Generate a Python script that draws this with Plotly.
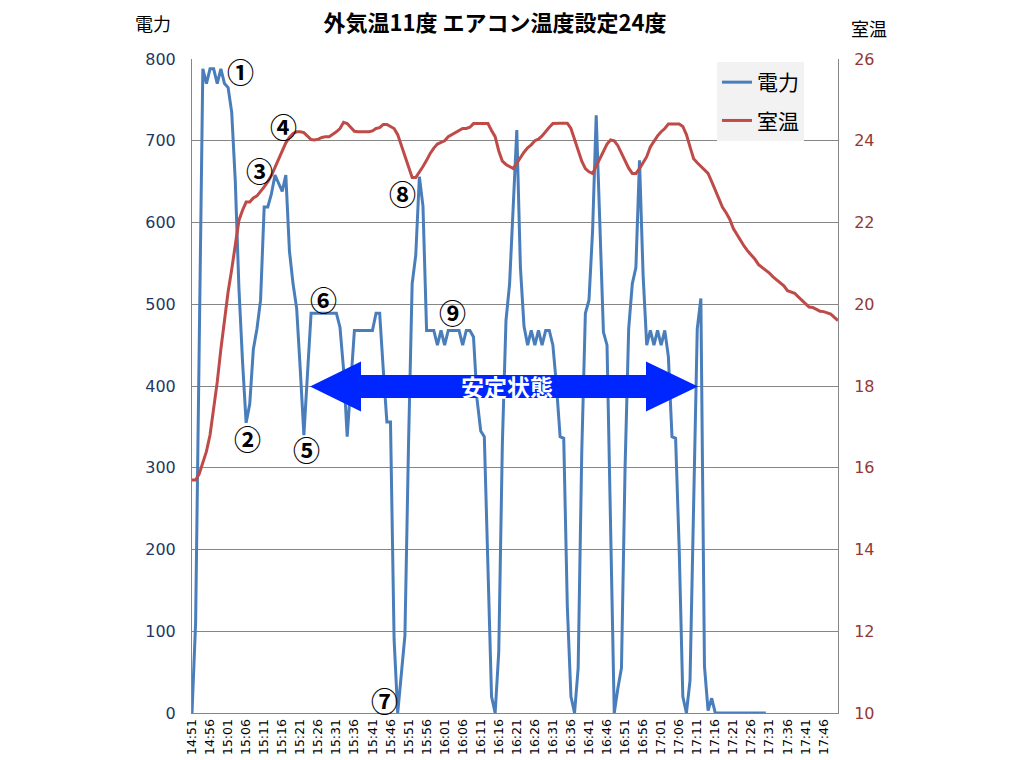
import plotly.graph_objects as go

# ---- data ----
start_h, start_m = 14, 51
n_points = 180
times = []
for k in range(n_points):
    tot = start_h * 60 + start_m + k
    times.append(f"{tot // 60}:{tot % 60:02d}")

power = [
    0, 110, 450, 788, 770, 788, 788, 770, 788, 770,
    765, 735, 650, 520, 430, 355, 378, 445, 470, 505,
    619, 619, 635, 658, 648, 638, 658, 565, 525, 495,
    420, 340, 415, 489, 489, 489, 489, 489, 489, 489,
    489, 472, 420, 338, 410, 468, 468, 468, 468, 468,
    468, 489, 489, 420, 356, 356, 90, 0, 45, 95,
    330, 525, 560, 656, 620, 468, 468, 468, 450, 468,
    450, 468, 468, 468, 468, 450, 468, 468, 460, 383,
    345, 338, 170, 20, 0, 75, 330, 480, 525, 611,
    713, 545, 473, 450, 468, 450, 468, 450, 468, 468,
    450, 400, 338, 336, 130, 20, 0, 55, 320, 489,
    505, 590, 731, 600, 466, 450, 200, 0, 30, 55,
    300, 470, 525, 545, 676, 535, 450, 468, 450, 468,
    450, 468, 436, 338, 336, 200, 20, 0, 40, 250,
    470, 507, 57, 3, 18, 0, 0, 0, 0, 0,
    0, 0, 0, 0, 0, 0, 0, 0, 0, 0,
]

room_temp = [
    15.7, 15.7, 15.85, 16.1, 16.4, 16.8, 17.4, 18.1, 18.9, 19.6,
    20.3, 20.85, 21.4, 22.05, 22.3, 22.5, 22.5, 22.6, 22.65, 22.75,
    22.87, 23.0, 23.15, 23.35, 23.55, 23.75, 23.95, 24.08, 24.18, 24.22,
    24.22, 24.2, 24.12, 24.03, 24.02, 24.04, 24.08, 24.1, 24.1, 24.15,
    24.22, 24.3, 24.45, 24.42, 24.32, 24.23, 24.22, 24.22, 24.22, 24.22,
    24.24, 24.3, 24.32, 24.4, 24.4, 24.35, 24.3, 24.15, 23.9, 23.65,
    23.4, 23.1, 23.1, 23.22, 23.37, 23.52, 23.69, 23.82, 23.92, 23.96,
    24.0, 24.1, 24.15, 24.2, 24.24, 24.3, 24.3, 24.33, 24.42, 24.42,
    24.42, 24.42, 24.42, 24.25, 24.1, 23.75, 23.5, 23.42, 23.38, 23.32,
    23.45, 23.6, 23.72, 23.83, 23.9, 24.0, 24.04, 24.12, 24.24, 24.33,
    24.42, 24.43, 24.43, 24.43, 24.43, 24.3, 24.05, 23.8, 23.5, 23.32,
    23.24, 23.2, 23.38, 23.6, 23.78, 23.92, 24.02, 24.0, 23.88, 23.7,
    23.5, 23.33, 23.2, 23.2, 23.32, 23.47, 23.61, 23.85, 24.0, 24.12,
    24.22, 24.3, 24.41, 24.41, 24.41, 24.41, 24.35, 24.15, 23.85, 23.56,
    23.46, 23.38, 23.28, 23.2, 23.0, 22.78, 22.55, 22.37, 22.24, 22.08,
    21.85, 21.7, 21.56, 21.42, 21.3, 21.2, 21.1, 20.97, 20.9, 20.85,
    20.76, 20.67, 20.6, 20.53, 20.45, 20.33, 20.3, 20.27, 20.18, 20.1,
    20.0, 19.93, 19.92, 19.88, 19.83, 19.82, 19.79, 19.76, 19.68, 19.6,
]

tick_labels = times[::5]
power_ticks = [0, 100, 200, 300, 400, 500, 600, 700, 800]
temp_ticks = [10, 12, 14, 16, 18, 20, 22, 24, 26]

# annotation labels: (text, x pixel, y pixel)
markers = [
    ("①", 240, 72), ("②", 247, 438), ("③", 259, 170), ("④", 283, 127),
    ("⑤", 306, 450), ("⑥", 323, 299), ("⑦", 384, 700), ("⑧", 402, 193),
    ("⑨", 452, 312),
]

# ---- layout geometry ----
W, H = 1014, 760
L, R, T, B = 192, 838, 59, 713

def px(x):
    return (x - L) / (R - L)

def py(y):
    return (B - y) / (B - T)

BLUE = "#4A7EBB"
RED = "#BE4B48"
CJK = "Noto Sans CJK JP"
NUM = "DejaVu Sans"

fig = go.Figure()
fig.add_trace(go.Scatter(
    x=times[:len(power)], y=power, name="電力", mode="lines",
    line=dict(color=BLUE, width=3), legendgroup="a",
))
fig.add_trace(go.Scatter(
    x=times[:len(room_temp)], y=room_temp, name="室温", mode="lines",
    line=dict(color=RED, width=3), yaxis="y2", legendgroup="b",
))

# double arrow
arrow_pts = [
    (310, 386.5), (361, 361.5), (361, 375), (646, 375), (646, 361.5),
    (698, 386.5), (646, 411.5), (646, 398), (361, 398), (361, 411.5),
]
path = "M " + " L ".join(f"{px(a):.4f},{py(b):.4f}" for a, b in arrow_pts) + " Z"
shapes = [dict(type="path", xref="paper", yref="paper", path=path,
               fillcolor="#0026FF", line=dict(width=0), layer="above")]

def ann(text, x, y, font):
    return dict(text=text, x=px(x), y=py(y), xref="paper", yref="paper",
                xanchor="center", yanchor="middle", showarrow=False, font=font)

annotations = [
    ann("安定状態", 507, 386, dict(family=CJK, size=23, color="white", weight="bold")),
    ann("電力", 153, 23, dict(family=CJK, size=18, color="black")),
    ann("室温", 869, 28, dict(family=CJK, size=18, color="black")),
]
for txt, xx, yy in markers:
    annotations.append(ann(txt, xx, yy, dict(family=CJK, size=27, color="black",
                                             weight="bold")))

fig.update_layout(
    width=W, height=H,
    margin=dict(l=L, r=W - R, t=T, b=H - B),
    paper_bgcolor="white", plot_bgcolor="white",
    title=dict(text="外気温11度 エアコン温度設定24度", x=495 / W, xanchor="center",
               y=1 - 23 / H, yanchor="middle",
               font=dict(family=CJK, size=22, color="black", weight="bold")),
    xaxis=dict(type="category", range=[0, len(times) - 1], tickmode="array",
               tickvals=tick_labels, ticktext=tick_labels, tickangle=-90,
               showgrid=False, showline=True, linecolor="#868686", linewidth=1,
               ticks="", tickfont=dict(family=NUM, size=12.5, color="black"),
               mirror=False, zeroline=False, automargin=False),
    yaxis=dict(range=[0, 800], tickvals=power_ticks, showgrid=True,
               gridcolor="#868686", gridwidth=1, showline=True, linecolor="#868686",
               linewidth=1, zeroline=False, ticks="", ticklabelstandoff=12,
               automargin=False,
               tickfont=dict(family=NUM, size=16, color="#1F3864")),
    yaxis2=dict(range=[10, 26], tickvals=temp_ticks, overlaying="y", side="right",
                showgrid=False, showline=True, linecolor="#868686", linewidth=1,
                zeroline=False, ticks="", ticklabelstandoff=12, automargin=False,
                tickfont=dict(family=NUM, size=16, color="#953735")),
    legend=dict(x=px(717), y=py(62), xanchor="left", yanchor="top",
                bgcolor="#F2F2F2", font=dict(family=CJK, size=21, color="black"),
                itemwidth=30, tracegroupgap=8),
    shapes=shapes,
    annotations=annotations,
    showlegend=True,
)

fig.write_html("out.html")
